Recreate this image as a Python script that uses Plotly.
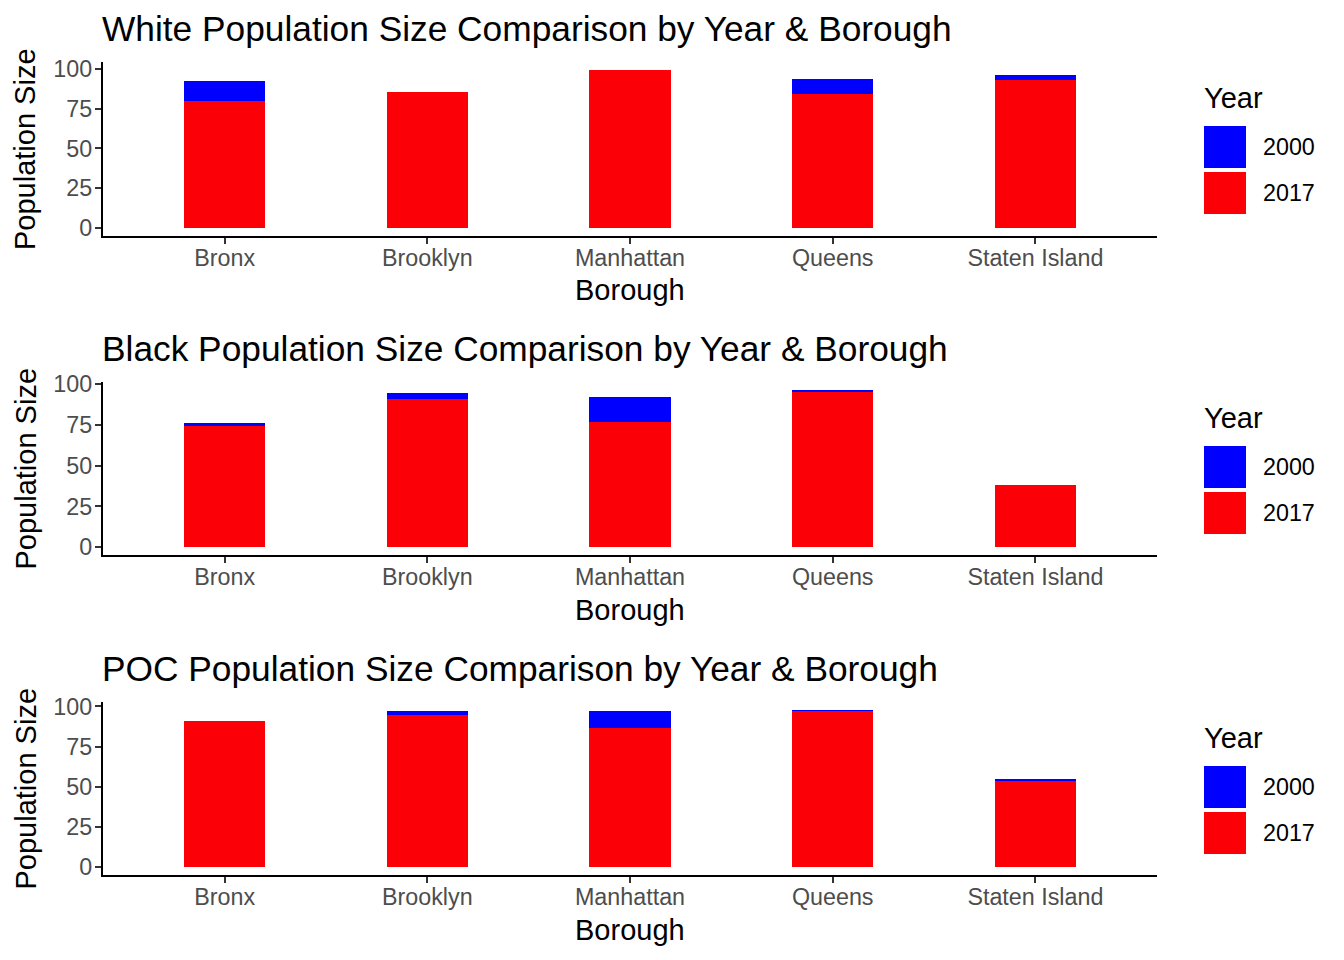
import plotly.graph_objects as go

# ---- data ----
boroughs = ["Bronx", "Brooklyn", "Manhattan", "Queens", "Staten Island"]
years = ["2000", "2017"]
white_2000 = [92.2, 84.9, 99.0, 93.5, 96.0]
white_2017 = [79.9, 85.3, 99.2, 84.1, 92.9]
black_2000 = [76.3, 94.7, 92.2, 96.5, 38.0]
black_2017 = [74.5, 90.9, 76.9, 95.3, 38.4]
poc_2000 = [90.8, 97.3, 97.3, 97.9, 55.0]
poc_2017 = [91.1, 94.8, 86.7, 97.3, 53.7]
panel_titles = [
    "White Population Size Comparison by Year & Borough",
    "Black Population Size Comparison by Year & Borough",
    "POC Population Size Comparison by Year & Borough",
]
y_ticks = [0, 25, 50, 75, 100]
colors = {"2000": "#0000FF", "2017": "#FB0007"}

panels = [(white_2000, white_2017), (black_2000, black_2017), (poc_2000, poc_2017)]

W, H = 1344, 960
FONT = "Liberation Sans, Arial, Helvetica, sans-serif"


def py(y):
    return 1 - y / H


def px(x):
    return x / W


# pixel geometry of panels (top, bottom)
panel_px = [(62, 236), (382, 555), (702, 875)]
x_left, x_right = 103, 1157

fig = go.Figure()
annotations = []
shapes = []
layout_axes = {}

for i, ((v2000, v2017), (top, bot)) in enumerate(zip(panels, panel_px)):
    n = "" if i == 0 else str(i + 1)
    xa, ya = "x" + n, "y" + n
    fig.add_trace(go.Bar(x=boroughs, y=v2000, name="2000", marker=dict(color=colors["2000"], line=dict(width=0)),
                         width=0.4, xaxis=xa, yaxis=ya, showlegend=False))
    fig.add_trace(go.Bar(x=boroughs, y=v2017, name="2017", marker=dict(color=colors["2017"], line=dict(width=0)),
                         width=0.4, xaxis=xa, yaxis=ya, showlegend=False))
    m = max(max(v2000), max(v2017))
    layout_axes["xaxis" + n] = dict(
        domain=[px(x_left), px(x_right)], anchor=ya, type="category", automargin=False,
        range=[-0.6, len(boroughs) - 0.4], showline=True, linecolor="black", linewidth=2.2,
        ticks="outside", ticklen=6, tickwidth=2, tickcolor="#333333", ticklabelstandoff=-6,
        tickfont=dict(family=FONT, size=23.3, color="#4D4D4D"),
        showgrid=False, zeroline=False, fixedrange=True,
    )
    layout_axes["yaxis" + n] = dict(
        domain=[py(bot), py(top)], anchor=xa, range=[-0.05 * m, 1.05 * m], automargin=False,
        tickvals=y_ticks, showline=True, linecolor="black", linewidth=2.2,
        ticks="outside", ticklen=6, tickwidth=2, tickcolor="#333333", ticklabelstandoff=-2,
        tickfont=dict(family=FONT, size=23.3, color="#4D4D4D"),
        showgrid=False, zeroline=False, fixedrange=True,
    )
    off = 320 * i
    # panel title
    annotations.append(dict(text=panel_titles[i], xref="paper", yref="paper", x=px(100), y=py(28 + off),
                            xanchor="left", yanchor="middle", showarrow=False,
                            font=dict(family=FONT, size=35.3, color="black")))
    # x axis title
    annotations.append(dict(text="Borough", xref="paper", yref="paper", x=px((x_left + x_right) / 2), y=py(290 + off),
                            xanchor="center", yanchor="middle", showarrow=False,
                            font=dict(family=FONT, size=29, color="black")))
    # y axis title
    annotations.append(dict(text="Population Size", xref="paper", yref="paper", x=px(25), y=py((top + bot) / 2),
                            xanchor="center", yanchor="middle", showarrow=False, textangle=-90,
                            font=dict(family=FONT, size=29, color="black")))
    # legend
    annotations.append(dict(text="Year", xref="paper", yref="paper", x=px(1202), y=py(98 + off),
                            xanchor="left", yanchor="middle", showarrow=False,
                            font=dict(family=FONT, size=29, color="black")))
    for j, yr in enumerate(years):
        y0 = 126 + 46 * j + off
        shapes.append(dict(type="rect", xref="paper", yref="paper", x0=px(1204), x1=px(1246),
                           y0=py(y0), y1=py(y0 + 42), fillcolor=colors[yr], line=dict(width=0)))
        annotations.append(dict(text=yr, xref="paper", yref="paper", x=px(1261), y=py(y0 + 21),
                                xanchor="left", yanchor="middle", showarrow=False,
                                font=dict(family=FONT, size=23.3, color="black")))

fig.update_layout(
    width=W, height=H, margin=dict(l=0, r=0, t=0, b=0, pad=0), autosize=False,
    paper_bgcolor="white", plot_bgcolor="white",
    barmode="overlay", bargap=0,
    annotations=annotations, shapes=shapes,
    font=dict(family=FONT),
    **layout_axes,
)

fig.write_html("out.html", config={"displayModeBar": False})
